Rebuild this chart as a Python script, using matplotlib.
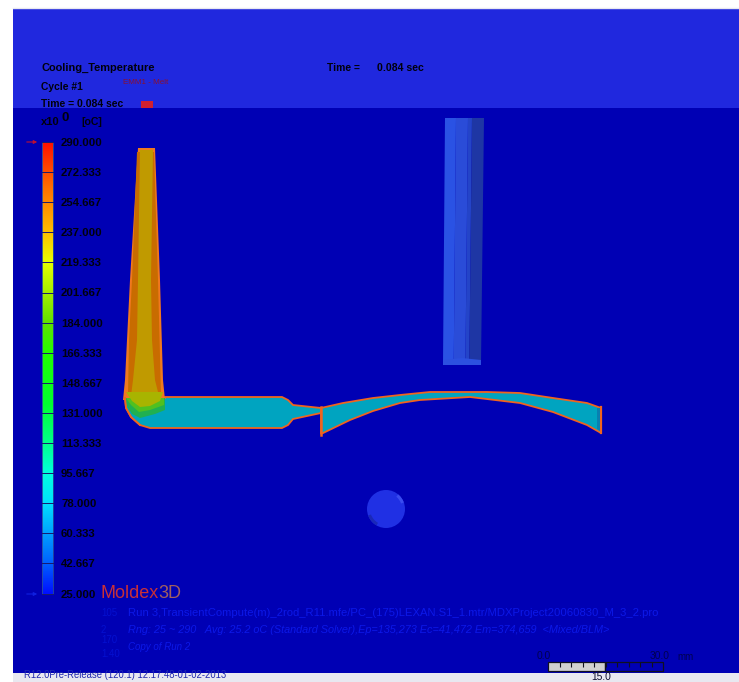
import numpy as np
import matplotlib
matplotlib.use('Agg')
import matplotlib.pyplot as plt
from matplotlib.colors import LinearSegmentedColormap
from matplotlib.patches import Circle, Polygon, Rectangle, Wedge

# legend values, top to bottom
legend_values = [290.000, 272.333, 254.667, 237.000, 219.333, 201.667, 184.000, 166.333,
                 148.667, 131.000, 113.333, 95.667, 78.000, 60.333, 42.667, 25.000]
legend_stops = [0.0, 0.066, 0.133, 0.2, 0.265, 0.33, 0.42, 0.53, 0.6, 0.735, 0.8, 0.9, 1.0]
legend_colors = ['#0010ff', '#0060ff', '#00a0ff', '#00e0ff', '#00ffe0', '#00ff90', '#00ff30',
                 '#20ff00', '#60e000', '#e8ff00', '#ffc000', '#ff7000', '#ff1000']

# part outlines (pixels)
sprue_x = [138, 155, 160, 163, 165, 123, 125, 130]
sprue_y = [148, 148, 280, 380, 400, 400, 380, 280]
wall_x = [137, 154, 158, 161, 128, 129, 132]
wall_y = [152, 152, 280, 395, 395, 340, 280]
core_x = [140, 153, 151, 152, 155, 159, 131, 133, 137, 138]
core_y = [150, 150, 280, 340, 380, 396, 396, 380, 340, 280]
runner_x = [125, 165, 165, 282, 288, 293, 321, 321, 293, 288, 282, 150, 140, 131, 126]
runner_y = [398, 398, 397, 397, 400, 405, 408, 413, 419, 425, 428, 428, 425, 417, 408]
green_x = [125, 165, 165, 155, 140, 132, 127]
green_y = [398, 398, 410, 414, 418, 414, 406]
lime_x = [126, 164, 164, 150, 139, 131]
lime_y = [398, 398, 405, 410, 412, 405]
front_x = [126, 163, 160, 150, 140, 132]
front_y = [392, 392, 401, 406, 407, 401]
part_top_x = [321, 343, 373, 400, 430, 487, 520, 553, 587, 601]
part_top_y = [408, 403, 398, 395, 392, 392, 393, 398, 403, 408]
part_bot_x = [601, 587, 553, 520, 470, 420, 400, 373, 350, 321]
part_bot_y = [433, 425, 412, 403, 397, 400, 403, 411, 420, 434]
pin_x = [445, 484, 481, 443]
pin_y = [118, 118, 364, 364]
pin_cols = [445, 456, 468, 472, 484]
pin_colors = ['#2a52e4', '#2a4cd8', '#2444c8', '#1e36a4']

BG_DARK = '#0000b4'
BG_LIGHT = '#2028de'
EDGE = '#f0641e'
BLACK = '#00000c'
TEAL = '#00a4c0'

fig = plt.figure(figsize=(7.39, 6.82), dpi=100, facecolor='white')
ax = fig.add_axes([0, 0, 1, 1])


def poly(xs, ys, color, edge='none', lw=0, z=3):
    ax.add_patch(Polygon(list(zip(xs, ys)), closed=True, facecolor=color, edgecolor=edge, linewidth=lw, zorder=z))


def label(x, y, s, size=7.4, color=BLACK, weight='bold', **kw):
    ax.text(x, y, s, fontsize=size, color=color, fontweight=weight, family='Liberation Sans', va='center', **kw)


# background bands
ax.add_patch(Rectangle((13, 8), 726, 100, facecolor=BG_LIGHT, edgecolor='none', zorder=1))
ax.add_patch(Rectangle((13, 108), 726, 565, facecolor=BG_DARK, edgecolor='none', zorder=1))
ax.add_patch(Rectangle((13, 673), 726, 9, facecolor='#e8e8f0', edgecolor='none', zorder=1))
ax.plot([13, 739], [8, 8], color='#e8e8f0', lw=1, zorder=2)

# header text
label(41, 68, 'Cooling_Temperature', size=7.9)
label(327, 68, 'Time =', size=7.4)
label(377, 68, '0.084 sec', size=7.6)
label(41, 87, 'Cycle #1', size=7.4)
label(123, 83, 'EMM1 - Melt', size=5.8, color='#8a1030', weight='normal')
label(41, 104, 'Time = 0.084 sec', size=7.5)
ax.add_patch(Rectangle((141, 101), 12, 7, facecolor='#d02030', edgecolor='none', zorder=3))
label(41, 122, 'x10', size=8)
label(62, 118, '0', size=9.5)
label(81, 122, '[oC]', size=7.6)

# legend bar
cmap = LinearSegmentedColormap.from_list('temp', list(zip(legend_stops, legend_colors)))
grad = np.linspace(1, 0, 256).reshape(-1, 1)
ax.imshow(grad, cmap=cmap, extent=[42, 53, 594, 142], aspect='auto', zorder=3)
ax.add_patch(Rectangle((42, 142), 11, 452, facecolor='none', edgecolor='#28509a', linewidth=0.6, zorder=4))
ticks_y = np.linspace(142, 593.5, len(legend_values))
for y, v in zip(ticks_y, legend_values):
    ax.plot([42, 53], [y, y], color='#181870', lw=0.7, zorder=4)
    label(61, y + 1, f'{v:.3f}', size=8.2)
ax.annotate('', xy=(40, 142), xytext=(24, 142),
            arrowprops=dict(arrowstyle='-|>', color='#c01030', lw=0.8, mutation_scale=5), zorder=4)
ax.annotate('', xy=(40, 594), xytext=(24, 594),
            arrowprops=dict(arrowstyle='-|>', color='#1020e0', lw=0.8, mutation_scale=5), zorder=4)

# runner first, sprue sits on top of its elbow
poly(runner_x, runner_y, TEAL, EDGE, 1.3, z=3)
poly(sprue_x, sprue_y, '#f0781e', z=4)
poly(wall_x, wall_y, '#c86c00', z=5)
poly(core_x, core_y, '#c09a00', z=6)
poly(green_x, green_y, '#20b050', z=5)
poly(lime_x, lime_y, '#50c020', z=6)
poly(front_x, front_y, '#a8b400', z=7)
ax.plot(runner_x[-3:] + runner_x[:1], runner_y[-3:] + runner_y[:1], color=EDGE, lw=1.3, zorder=8)

# cavity part
poly(part_top_x + part_bot_x, part_top_y + part_bot_y, TEAL, EDGE, 1.3, z=3)
ax.plot([321, 321], [407, 435], color=EDGE, lw=1.8, zorder=4)
ax.plot([601, 601], [407, 433], color=EDGE, lw=1.6, zorder=4)
poly([597, 600, 600, 597], [408, 408, 431, 429], '#0880b0', z=4)

# ejector pin and round pin
for i, c in enumerate(pin_colors):
    frac_l = (pin_cols[i] - pin_cols[0]) / (pin_cols[-1] - pin_cols[0])
    frac_r = (pin_cols[i + 1] - pin_cols[0]) / (pin_cols[-1] - pin_cols[0])
    xs = [pin_cols[i], pin_cols[i + 1], 443 + 38 * frac_r, 443 + 38 * frac_l]
    poly(xs, pin_y, c, z=3)
poly([443, 462, 481, 481, 443], [360, 358, 360, 365, 365], '#2c50e0', z=4)
ax.add_patch(Circle((386, 509), 19, facecolor='#2030e4', edgecolor='none', zorder=3))
ax.add_patch(Wedge((386, 509), 19, 120, 160, width=3, facecolor='#1a28b8', edgecolor='none', zorder=4))
ax.add_patch(Wedge((386, 509), 19, 310, 340, width=3, facecolor='#3a4cf0', edgecolor='none', zorder=4))

# logo and faint run info
ax.text(100, 593, 'Moldex', fontsize=13, color='#c83038', family='Liberation Sans', va='center', zorder=4)
ax.text(158, 593, '3D', fontsize=13, color='#a06060', family='Liberation Sans', va='center', zorder=4)
faint = '#0c18e8'
label(128, 613, 'Run 3,TransientCompute(m)_2rod_R11.mfe/PC_(175)LEXAN.S1_1.mtr/MDXProject20060830_M_3_2.pro',
      size=8.1, color=faint, weight='normal')
label(128, 630, 'Rng: 25 ~ 290   Avg: 25.2 oC (Standard Solver),Ep=135,273 Ec=41,472 Em=374,659  <Mixed/BLM>',
      size=7.8, color=faint, weight='normal', style='italic')
label(128, 647, 'Copy of Run 2', size=7.0, color=faint, weight='normal', style='italic')
label(101, 613, '105', size=7, color='#0410d0', weight='normal')
label(101, 630, '2', size=7, color='#0410d0', weight='normal')
label(101, 640, '170', size=7, color='#0410d0', weight='normal')
label(101, 654, '1.40', size=7, color='#0410d0', weight='normal')

# footer and scale bar
label(24, 675, 'R12.0Pre-Release (120.1) 12:17:48-01-02-2013', size=6.85, color='#2028b0', weight='normal')
label(537, 656, '0.0', size=7.4, color='#000050', weight='normal')
label(650, 656, '30.0', size=7.4, color='#000050', weight='normal')
label(677, 657, 'mm', size=7, color='#000050', weight='normal')
ax.add_patch(Rectangle((548, 662), 57, 9, facecolor='#d0d0d0', edgecolor='#101020', linewidth=0.9, zorder=3))
ax.add_patch(Rectangle((605, 662), 58, 9, facecolor=BG_DARK, edgecolor='#101020', linewidth=0.9, zorder=3))
ax.vlines(np.linspace(548, 663, 11)[1:-1], 662, 667, color='#101020', lw=0.8, zorder=4)
label(591, 677, '15.0', size=7.4, color='#101030', weight='normal')

ax.set_xlim(0, 739)
ax.set_ylim(682, 0)
ax.axis('off')

fig.savefig('out.png', dpi=100)
